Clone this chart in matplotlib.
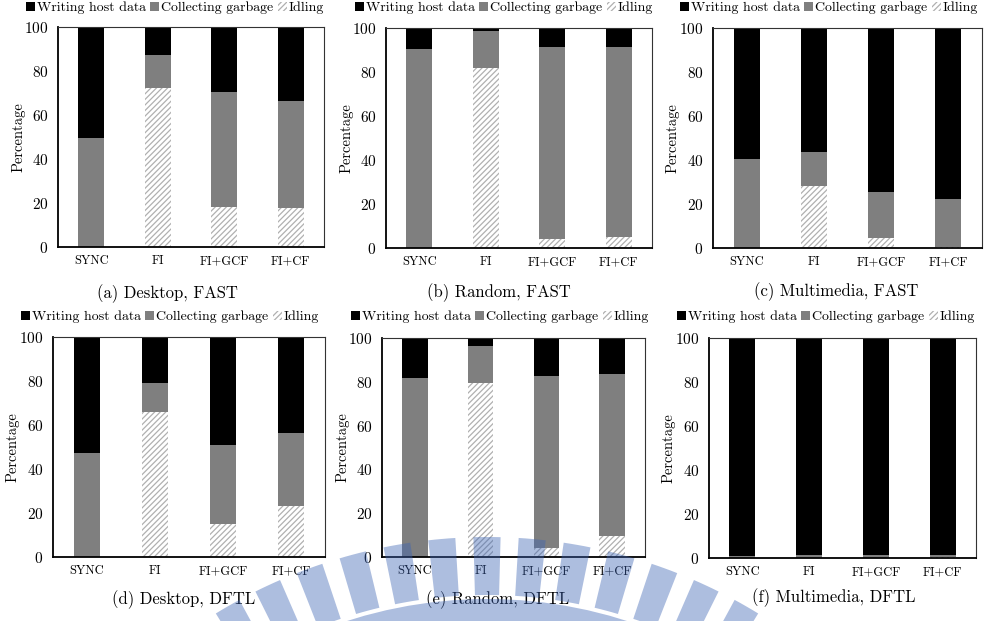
import matplotlib
matplotlib.use("Agg")
import matplotlib.pyplot as plt
from matplotlib.patches import Wedge
import numpy as np

plt.rcParams["font.family"] = ["cmr10", "DejaVu Serif"]
plt.rcParams["axes.formatter.use_mathtext"] = True
plt.rcParams["hatch.linewidth"] = 0.9

categories = ["SYNC", "FI", "FI+GCF", "FI+CF"]
series_names = ["Writing host data", "Collecting garbage", "Idling"]
captions = ["(a) Desktop, FAST", "(b) Random, FAST", "(c) Multimedia, FAST",
            "(d) Desktop, DFTL", "(e) Random, DFTL", "(f) Multimedia, DFTL"]

# percentages, per panel
idle_a = [0, 72.1, 18.2, 17.7]
gc_a = [49.7, 15.2, 52.3, 48.7]
write_a = [50.3, 12.7, 29.5, 33.6]

idle_b = [0, 81.8, 4.3, 5.2]
gc_b = [90.6, 16.7, 86.9, 86.0]
write_b = [9.4, 1.5, 8.8, 8.8]

idle_c = [0, 28.3, 4.4, 0.5]
gc_c = [40.4, 15.3, 21.1, 21.8]
write_c = [59.6, 56.4, 74.5, 77.7]

idle_d = [0, 66.0, 15.2, 23.1]
gc_d = [47.1, 13.2, 35.6, 33.3]
write_d = [52.9, 20.8, 49.2, 43.6]

idle_e = [0, 79.3, 3.9, 9.4]
gc_e = [81.9, 17.0, 78.6, 74.0]
write_e = [18.1, 3.7, 17.5, 16.6]

idle_f = [0, 0, 0, 0.3]
gc_f = [1.0, 1.3, 1.3, 1.2]
write_f = [99.0, 98.7, 98.7, 98.5]

panels = [(idle_a, gc_a, write_a), (idle_b, gc_b, write_b), (idle_c, gc_c, write_c),
          (idle_d, gc_d, write_d), (idle_e, gc_e, write_e), (idle_f, gc_f, write_f)]

W, H = 986, 621
# axes boxes in pixels: left, top, right, bottom
boxes = [(58, 27, 324, 247), (386, 28, 652, 248), (713, 28, 982, 248),
         (53, 337, 325, 557), (382, 338, 645, 557), (709, 338, 976, 558)]
legend_pos = [(175, 8), (504, 8), (829, 8), (170, 317), (500, 317), (826, 317)]
caption_pos = [(167, 294), (499, 293), (836, 292), (184, 600), (498, 600), (834, 598)]
ylabel_x = [19, 347, 673, 13, 343, 668]

fig = plt.figure(figsize=(W / 100, H / 100), dpi=100)

x = np.arange(len(categories))
for i, (idle, gc, write) in enumerate(panels):
    l, t, r, b = boxes[i]
    ax = fig.add_axes([l / W, 1 - b / H, (r - l) / W, (b - t) / H])
    idle = np.array(idle)
    gc = np.array(gc)
    write = np.array(write)
    bw = 0.39
    b_idle = ax.bar(x, idle, bw, color="white", edgecolor="#b0b0b0",
                    hatch="//////", linewidth=0, label=series_names[2])
    b_gc = ax.bar(x, gc, bw, bottom=idle, color="#7f7f7f", linewidth=0,
                  label=series_names[1])
    b_w = ax.bar(x, write, bw, bottom=idle + gc, color="black", linewidth=0,
                 label=series_names[0])
    ax.set_xlim(-0.5, 3.5)
    ax.set_ylim(0, 100)
    ax.set_yticks([0, 20, 40, 60, 80, 100])
    ax.set_xticks(x)
    ax.set_xticklabels(categories, fontsize=9)
    ax.tick_params(axis="y", length=0, labelsize=11, pad=7)
    ax.tick_params(axis="x", length=0, pad=6)
    for s in ["left", "bottom"]:
        ax.spines[s].set_linewidth(1.3)
        ax.spines[s].set_color("black")
    for s in ["top", "right"]:
        ax.spines[s].set_linewidth(0.8)
        ax.spines[s].set_color("#333333")

    lx, ly = legend_pos[i]
    ax.legend([b_w, b_gc, b_idle], series_names, ncol=3, loc="center",
              bbox_to_anchor=(lx / W, 1 - ly / H), bbox_transform=fig.transFigure,
              frameon=False, fontsize=10, handlelength=0.65, handleheight=0.65,
              handletextpad=0.15, columnspacing=0.3, borderaxespad=0, borderpad=0)

    fig.text(ylabel_x[i] / W, 1 - (t + b) / 2 / H, "Percentage", rotation=90,
             ha="center", va="center", fontsize=10.5)
    cx, cy = caption_pos[i]
    fig.text(cx / W, 1 - cy / H, captions[i], ha="center", va="center", fontsize=12)

# faint university logo watermark along the bottom
wm = fig.add_axes([0, 0, 1, 1], zorder=10)
wm.set_xlim(0, W)
wm.set_ylim(H, 0)
wm.axis("off")
wm.patch.set_alpha(0)
cxw, cyw = 487, 1056
wm_color = (60 / 255, 100 / 255, 180 / 255)
for ang in np.arange(90 - 30, 90 + 31, 5.0):
    wm.add_patch(Wedge((cxw, cyw), 519, -ang - 1.5, -ang + 1.5, width=58,
                       color=wm_color, alpha=0.42, linewidth=0))
wm.add_patch(Wedge((cxw, cyw), 457, 180, 360, width=24, color=wm_color,
                   alpha=0.42, linewidth=0))

fig.savefig("out.png", dpi=100)
